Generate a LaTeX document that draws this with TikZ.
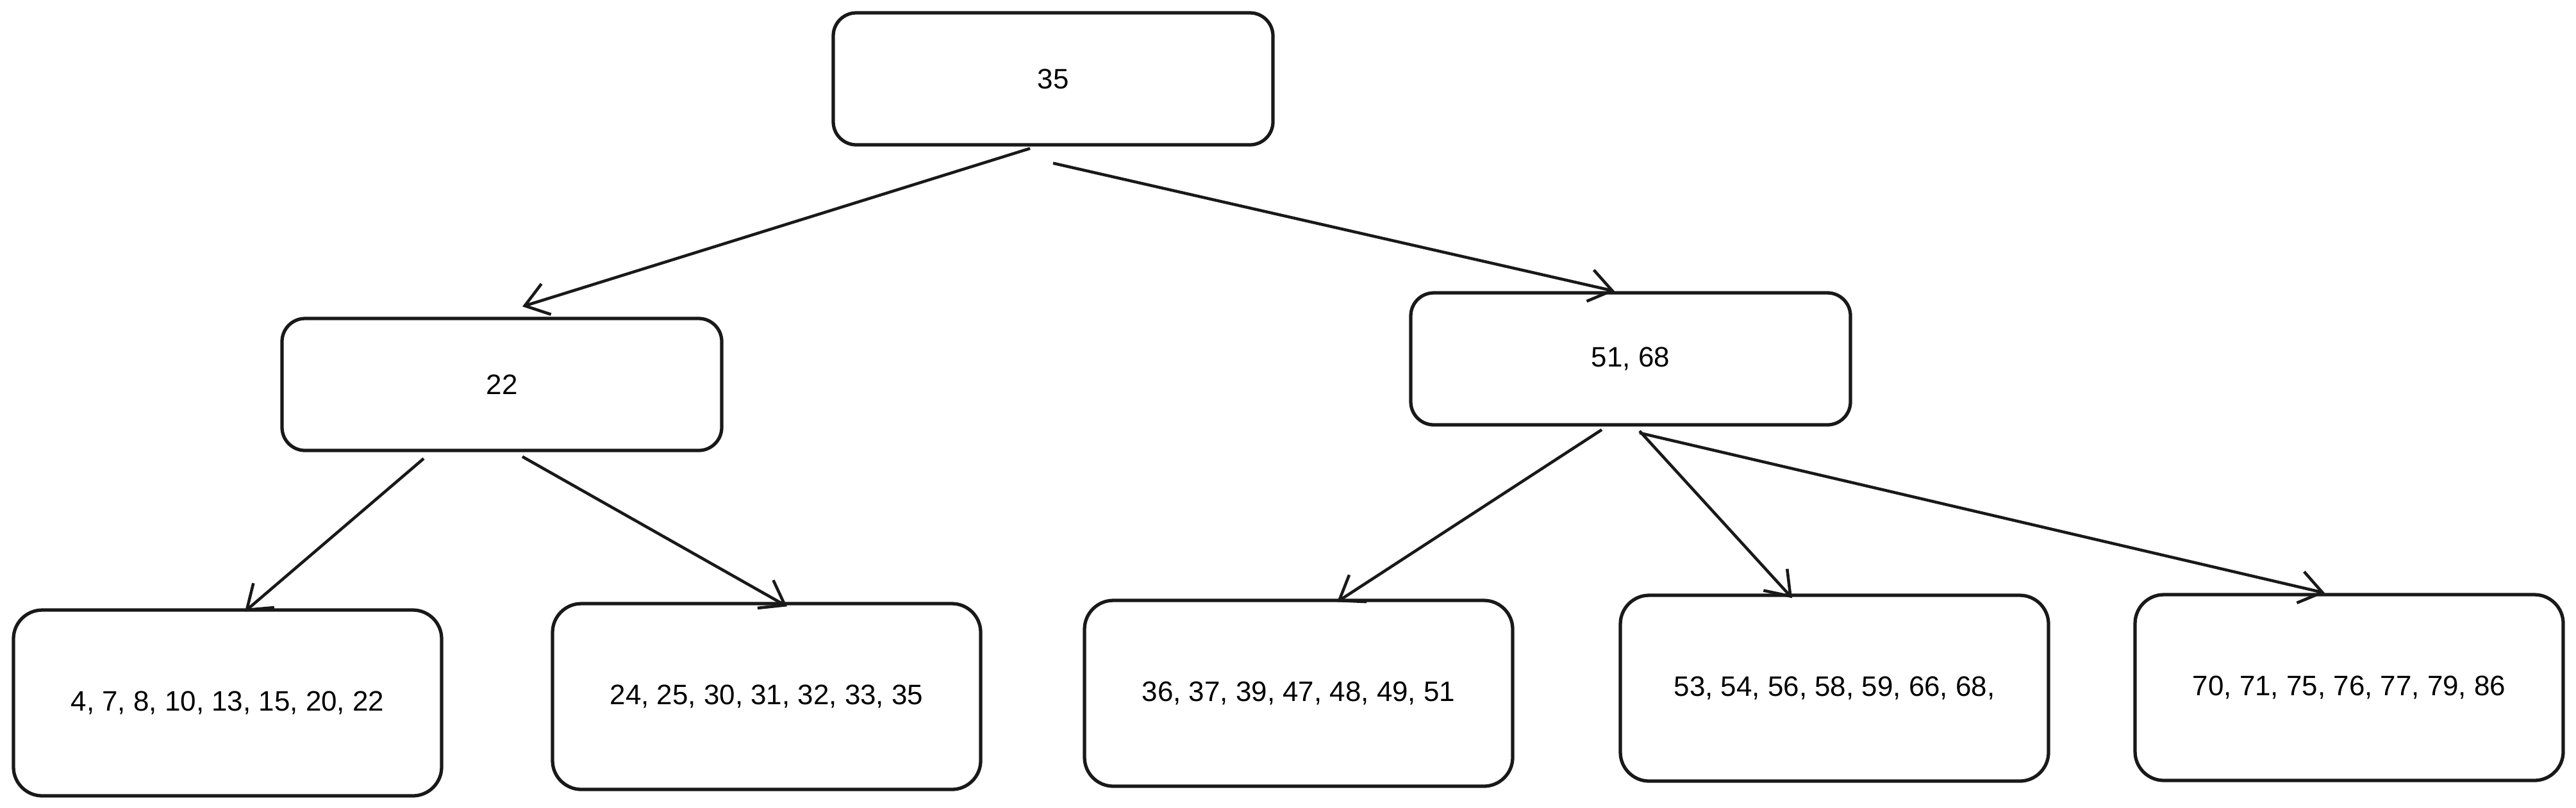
\documentclass[tikz,border=0pt]{standalone}
\usepackage{fontspec}
\setmainfont{Liberation Sans}
\usepackage{tikz}
\usetikzlibrary{arrows.meta}
\usetikzlibrary{positioning}
\usetikzlibrary{calc}
\tikzset{
  keynode/.style = {rectangle, draw=black!90, line width=1.5pt, align=center,
    font=\fontsize{12.5}{15}\selectfont},
  inner_n/.style = {keynode, rounded corners=0.36cm, minimum width=6.86cm,
    minimum height=2.06cm},% noeud interne
  leaf_n/.style = {keynode, rounded corners=0.45cm, minimum width=6.68cm,
    minimum height=2.9cm}% feuille
}

\begin{document}
\begin{tikzpicture}[x=1cm,y=1cm,
  ptr/.style={-{Straight Barb[length=3.5mm,width=5mm]}, line width=1.3pt, black!90}]
\useasboundingbox (0,0) rectangle (40.19,-12.60);

% racine et noeuds internes
\node [inner_n] (root) at (16.43,-1.23) {35};
\node [inner_n] (k22) at (7.83,-6.00) {22};
\node [inner_n] (k5168) at (25.44,-5.60) {51, 68};

% feuilles
\node [leaf_n] (l1) at (3.55,-10.97) {4, 7, 8, 10, 13, 15, 20, 22};
\node [leaf_n] (l2) at (11.96,-10.87) {24, 25, 30, 31, 32, 33, 35};
\node [leaf_n] (l3) at (20.26,-10.82) {36, 37, 39, 47, 48, 49, 51};
\node [leaf_n] (l4) at (28.62,-10.74) {53, 54, 56, 58, 59, 66, 68,};
\node [leaf_n] (l5) at (36.65,-10.73) {70, 71, 75, 76, 77, 79, 86};

% pointeurs
\draw[ptr] ([xshift=-0.36cm,yshift=-0.03cm]root.south) -- ([xshift=0.32cm,yshift=0.16cm]k22.north);
\draw[ptr] ([yshift=-0.26cm]root.south) -- ([xshift=-0.25cm]k5168.north);

\draw[ptr] ([xshift=-1.22cm,yshift=-0.1cm]k22.south) -- ([xshift=0.27cm,yshift=-0.05cm]l1.north);
\draw[ptr] ([xshift=0.32cm,yshift=-0.07cm]k22.south) -- ([xshift=0.32cm,yshift=-0.07cm]l2.north);

\draw[ptr] ([xshift=-0.45cm,yshift=-0.05cm]k5168.south) -- ([xshift=0.6cm,yshift=-0.05cm]l3.north);
\draw[ptr] ([xshift=0.14cm,yshift=-0.07cm]k5168.south) -- ([xshift=-0.66cm,yshift=-0.07cm]l4.north);
\draw[ptr] ([xshift=0.14cm,yshift=-0.1cm]k5168.south) -- ([xshift=-0.38cm]l5.north);
\end{tikzpicture}
\end{document}
